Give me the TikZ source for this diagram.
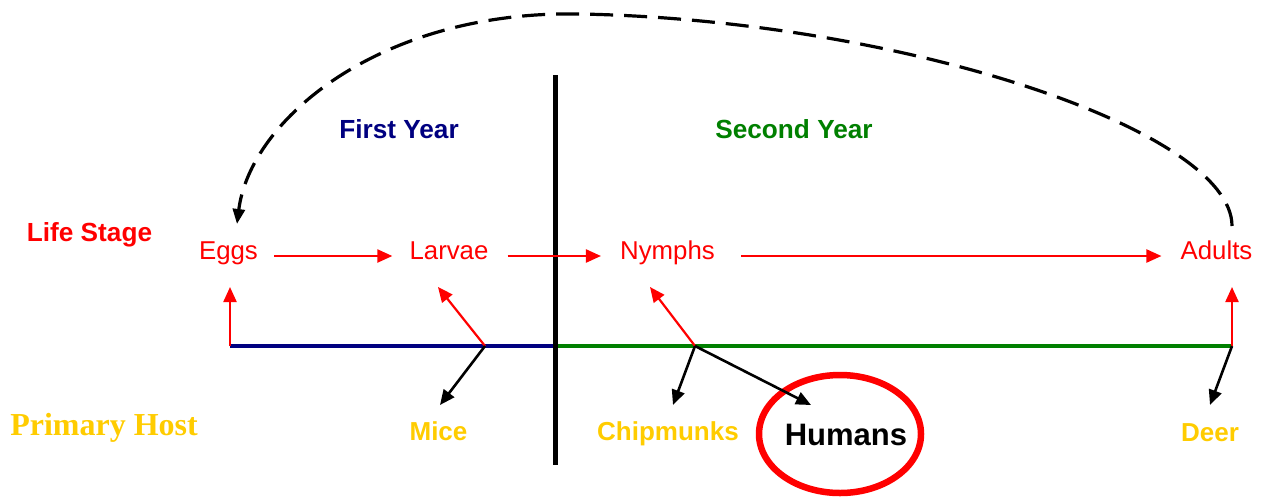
\documentclass[tikz,border=0pt]{standalone}
\usepackage{fontspec}
\setmainfont{Liberation Serif}
\setsansfont{Liberation Sans}
\usetikzlibrary{arrows.meta,shapes.geometric}
\definecolor{stagered}{HTML}{FF0000}
\definecolor{yearblue}{HTML}{000080}
\definecolor{yeargreen}{HTML}{008000}
\definecolor{hostgold}{HTML}{FFCC00}
\begin{document}
\begin{tikzpicture}[x=1pt,y=-1pt,
  stage/.style={font=\sffamily\fontsize{25.8}{30}\selectfont, text=stagered,
    inner sep=0pt, text height=19pt, text depth=5pt, anchor=base},
  heading/.style={font=\sffamily\bfseries\fontsize{26.2}{30}\selectfont,
    inner sep=0pt, anchor=base},
  host/.style={font=\sffamily\bfseries\fontsize{26}{30}\selectfont,
    text=hostgold, inner sep=0pt, anchor=base},
  redarrow/.style={draw=stagered, line width=2.2pt,
    -{Triangle[length=15pt,width=13pt]}},
  blackarrow/.style={draw=black, line width=2.6pt,
    -{Triangle[length=15pt,width=13pt]}},
  cyclearrow/.style={draw=black, line width=3.2pt, dash pattern=on 23pt off 11pt,
    -{Triangle[length=15pt,width=12pt]}},
]
\useasboundingbox (0,0) rectangle (1261,499);

% row labels
\node[heading, text=stagered] (lifestage) at (89.5,241) {Life Stage};
\node[font=\rmfamily\bfseries\fontsize{32}{36}\selectfont, text=hostgold,
  inner sep=0pt, anchor=base] (primaryhost) at (104,435) {Primary Host};

% year headings
\node[heading, text=yearblue] (firstyear) at (399,138) {First Year};
\node[heading, text=yeargreen] (secondyear) at (794,138) {Second Year};

% life stages
\node[stage] (eggs)   at (228.5,259) {Eggs};
\node[stage] (larvae) at (449,259)   {Larvae};
\node[stage] (nymphs) at (667.5,259) {Nymphs};
\node[stage] (adults) at (1216.5,259) {Adults};

% hosts
\node[host] (mice)      at (438.5,440) {Mice};
\node[host] (chipmunks) at (668,440)   {Chipmunks};
\node[host] (deer)      at (1210,441)  {Deer};
\node[font=\sffamily\bfseries\fontsize{31}{36}\selectfont, inner sep=0pt,
  anchor=base] (humans) at (846,445) {Humans};
\node[draw=stagered, line width=6.5pt, ellipse, minimum width=162pt,
  minimum height=118pt] (humanring) at (840,434) {};

% timeline and year divider
\coordinate (divtop) at (555,75);
\coordinate (divbot) at (555,465);
\coordinate (jeggs)   at (230,346);
\coordinate (jlarvae) at (485,346);
\coordinate (jsplit)  at (555,346);
\coordinate (jnymphs) at (695,346);
\coordinate (jadults) at (1232,346);
\draw[yearblue, line width=3.5pt] (jeggs) -- (jsplit);
\draw[yeargreen, line width=3.5pt] (jsplit) -- (jadults);
\draw[black, line width=5pt] (divtop) -- (divbot);

% stage to stage
\draw[redarrow] ([xshift=16pt,yshift=-4pt]eggs.east) -- ([xshift=-17pt,yshift=-4pt]larvae.west);
\draw[redarrow] ([xshift=19pt,yshift=-4pt]larvae.east) -- ([xshift=-19pt,yshift=-4pt]nymphs.west);
\draw[redarrow] ([xshift=26pt,yshift=-4pt]nymphs.east) -- ([xshift=-19pt,yshift=-4pt]adults.west);

% timeline up to the stages
\coordinate (eggsin)   at (230,287);
\coordinate (larvaein) at (438,287);
\coordinate (nymphsin) at (650,287);
\coordinate (adultsin) at (1232,287);
\draw[redarrow] (jeggs) -- (eggsin);
\draw[redarrow] (jlarvae) -- (larvaein);
\draw[redarrow] (jnymphs) -- (nymphsin);
\draw[redarrow] (jadults) -- (adultsin);

% timeline down to the hosts
\coordinate (micein)   at (440,405);
\coordinate (chipin)   at (673,405);
\coordinate (humanin)  at (811,405);
\coordinate (deerin)   at (1210,405);
\draw[blackarrow] (jlarvae) -- (micein);
\draw[blackarrow] (jnymphs) -- (chipin);
\draw[blackarrow] (jnymphs) -- (humanin);
\draw[blackarrow] (jadults) -- (deerin);

% adults lay eggs: the cycle returns
\coordinate (cyclestart) at (1232,226);
\coordinate (cycletop)   at (580,14);
\coordinate (cycleend)   at (237,224);
\draw[cyclearrow] (cyclestart) .. controls (1232,130) and (900,20) .. (cycletop)
  .. controls (380,10) and (250,120) .. (cycleend);
\end{tikzpicture}
\end{document}
